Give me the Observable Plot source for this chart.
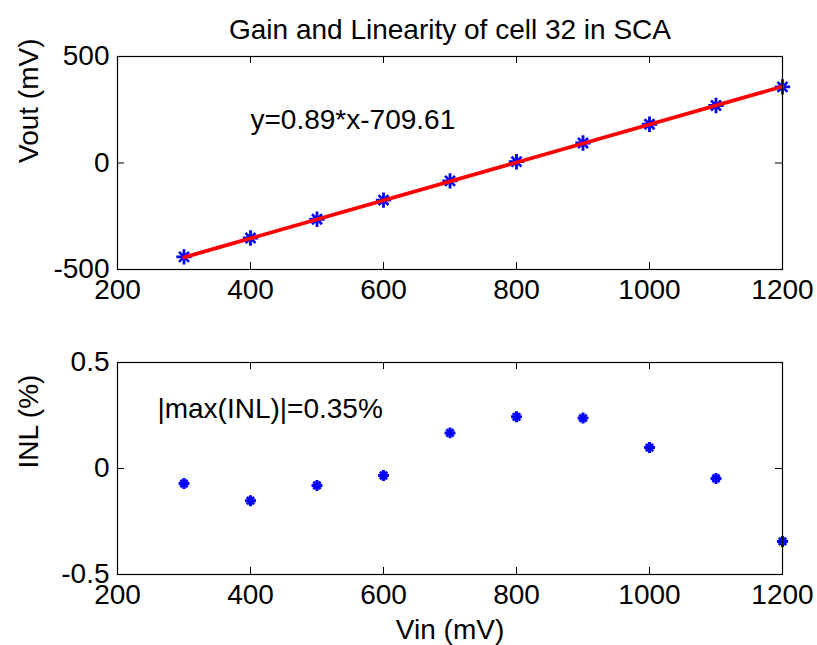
<!DOCTYPE html>
<html>
<head>
<meta charset="utf-8">
<script src="https://cdn.jsdelivr.net/npm/d3@7"></script>
<script src="https://cdn.jsdelivr.net/npm/@observablehq/plot@0.6"></script>
<style>
  html, body { margin: 0; padding: 0; background: #fff; }
  #chart { width: 817px; height: 645px; position: relative; overflow: hidden; }
  #chart svg { display: block; }
</style>
</head>
<body>
<div id="chart"></div>
<script>
// ---- data ----
const vin = [300, 400, 500, 600, 700, 800, 900, 1000, 1100, 1200];
const vout = [-441, -352, -264, -174, -84, 6, 94, 182, 270, 357];
const fitX = [300, 1200];
const fitY = [-443, 359];
const inl = [-0.071, -0.152, -0.08, -0.033, 0.168, 0.244, 0.238, 0.099, -0.047, -0.344];

const titleText = "Gain and Linearity of cell 32 in SCA";
const fitLabel = "y=0.89*x-709.61";
const inlLabel = "|max(INL)|=0.35%";
const xTicks = [200, 400, 600, 800, 1000, 1200];
const yTicksTop = [-500, 0, 500];
const yTicksBottom = [-0.5, 0, 0.5];

// ---- styling ----
const FONT = "'Liberation Sans', Arial, Helvetica, sans-serif";
const FS = 28;
const W = 817;
const ML = 117, MR = 35;
const frameW = W - ML - MR;

const points = vin.map((x, i) => ({x, y: vout[i]}));
const fit = fitX.map((x, i) => ({x, y: fitY[i]}));
const inlPts = vin.map((x, i) => ({x, y: inl[i]}));

function panel({height, mt, mb, yDomain, yTicks, yFmt, marks}) {
  const frameH = height - mt - mb;
  return Plot.plot({
    width: W, height,
    marginLeft: ML, marginRight: MR, marginTop: mt, marginBottom: mb,
    style: {fontFamily: FONT, fontSize: FS + "px", color: "#000", background: "#fff", overflow: "visible"},
    x: {domain: [200, 1200]},
    y: {domain: yDomain},
    marks: [
      Plot.axisX(xTicks, {anchor: "bottom", tickSize: 0, tickPadding: 10, label: null, tickFormat: d => String(d), fontSize: FS}),
      Plot.axisY(yTicks, {anchor: "left", tickSize: 0, tickPadding: 8, label: null, tickFormat: yFmt, fontSize: FS}),
      Plot.tickX(xTicks, {x: d => d, insetTop: frameH - 7, stroke: "#000"}),
      Plot.tickX(xTicks, {x: d => d, insetBottom: frameH - 7, stroke: "#000"}),
      Plot.tickY(yTicks, {y: d => d, insetRight: frameW - 7, stroke: "#000"}),
      Plot.tickY(yTicks, {y: d => d, insetLeft: frameW - 7, stroke: "#000"}),
      ...marks,
      Plot.frame({stroke: "#000", strokeWidth: 1.2})
    ]
  });
}

const topPanel = panel({
  height: 310, mt: 56, mb: 41,
  yDomain: [-500, 500], yTicks: yTicksTop, yFmt: d => String(d),
  marks: [
    Plot.dot(points, {x: "x", y: "y", symbol: "plus", r: 5, stroke: "#0000ff", strokeWidth: 2.8}),
    Plot.dot(points, {x: "x", y: "y", symbol: "times", r: 4.6, stroke: "#0000ff", strokeWidth: 2.6}),
    Plot.line(fit, {x: "x", y: "y", stroke: "#ff0000", strokeWidth: 3.8}),
    Plot.text([fitLabel], {x: 400, y: 200, text: d => d, textAnchor: "start", lineAnchor: "middle", fontSize: FS, fill: "#000"}),
    Plot.text([titleText], {frameAnchor: "top", dy: -18, text: d => d, lineAnchor: "bottom", fontSize: FS, fill: "#000"}),
    Plot.text(["Vout (mV)"], {frameAnchor: "left", rotate: -90, dx: -80, text: d => d, lineAnchor: "bottom", fontSize: FS, fill: "#000"})
  ]
});

const bottomPanel = panel({
  height: 335, mt: 52, mb: 71,
  yDomain: [-0.5, 0.5], yTicks: yTicksBottom, yFmt: d => d === 0 ? "0" : String(d),
  marks: [
    Plot.dot(inlPts, {x: "x", y: "y", symbol: "plus", r: 3.6, stroke: "#0000ff", strokeWidth: 3}),
    Plot.dot(inlPts, {x: "x", y: "y", symbol: "times", r: 3.4, stroke: "#0000ff", strokeWidth: 2.8}),
    Plot.text([inlLabel], {x: 260, y: 0.28, text: d => d, textAnchor: "start", lineAnchor: "middle", fontSize: FS, fill: "#000"}),
    Plot.text(["INL (%)"], {frameAnchor: "left", rotate: -90, dx: -80, text: d => d, lineAnchor: "bottom", fontSize: FS, fill: "#000"}),
    Plot.text(["Vin (mV)"], {frameAnchor: "bottom", dy: 64, text: d => d, lineAnchor: "bottom", fontSize: FS, fill: "#000"})
  ]
});

const root = document.getElementById("chart");
root.appendChild(topPanel);
root.appendChild(bottomPanel);
</script>
</body>
</html>
